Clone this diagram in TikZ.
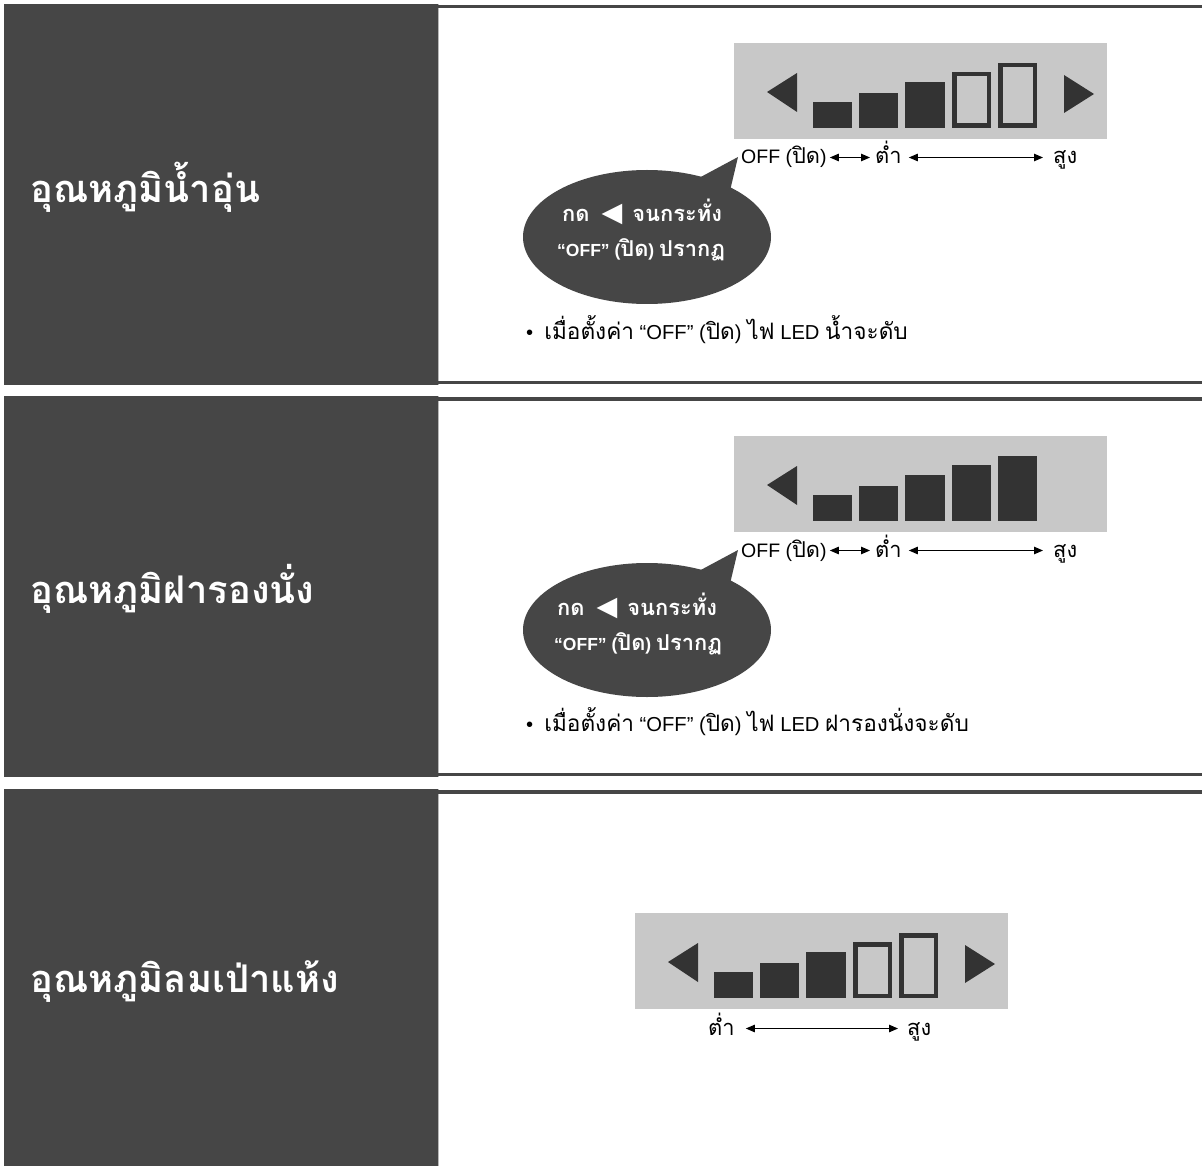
\documentclass[tikz,border=0pt]{standalone}
\usepackage{fontspec}
\setmainfont{Liberation Sans}
\newfontfamily\thai[Script=Thai,Scale=1.25]{Loma}
\newfontfamily\thaib[Script=Thai,Scale=1.12]{Loma}
\newfontfamily\djv{DejaVu Sans}
\newcommand\thx[1]{{\thai #1}}
\newcommand\thy[1]{{\thaib #1}}
\usetikzlibrary{arrows.meta,shapes.geometric,calc}
\definecolor{panelc}{HTML}{464646}
\definecolor{dispc}{HTML}{C8C8C8}
\definecolor{barc}{HTML}{333333}
\definecolor{edgec}{HTML}{B8B8B8}
\begin{document}
\begin{tikzpicture}[x=1pt,y=-1pt,
  titletext/.style={anchor=base west,inner sep=0pt,text=white,font=\thai\bfseries\fontsize{30.5}{36}\selectfont},
  lbl/.style={anchor=base west,inner sep=0pt,font=\fontsize{19.5}{23}\selectfont},
  note/.style={anchor=base west,inner sep=0pt,font=\fontsize{20.2}{24}\selectfont},
  bubtext/.style={anchor=base west,inner sep=0pt,text=white,font=\bfseries\fontsize{17.5}{21}\selectfont},
  dbl/.style={{Triangle[length=9pt,width=7.5pt]}-{Triangle[length=9pt,width=7.5pt]},line width=1pt},
  bubble/.style={ellipse,fill=panelc,minimum width=248pt,minimum height=134pt,inner sep=0pt},
  fullbar/.style={fill=barc},
  hollowbar/.style={draw=barc,line width=4.5pt},
]
\useasboundingbox (0,0) rectangle (1202,1166);
\fill[white] (0,0) rectangle (1202,1166);

% ---------- panel frames ----------
\foreach \T/\B in {4/385,396/777,789/1172}{
  \fill[panelc] (4,\T) rectangle (438,\B);
  \draw[edgec,line width=1pt] (438.5,\T) -- (438.5,\B);
  \fill[panelc] (438,\T+1) rectangle (1202,\T+4.5);
  \fill[panelc] (438,\B-4.5) rectangle (1202,\B-1);
}

% ---------- titles ----------
\node[titletext] (t1) at (30,203) {อุณหภูมิน้ำอุ่น};
\node[titletext] (t2) at (30,603) {อุณหภูมิฝารองนั่ง};
\node[titletext] (t3) at (30,992) {อุณหภูมิลมเป่าแห้ง};

% ---------- display 1 ----------
\fill[dispc] (734,43) rectangle (1107,139);
\fill[barc] (767,92) -- (797,73) -- (797,112) -- cycle;
\fill[barc] (1094,94) -- (1064,75) -- (1064,113) -- cycle;
\fill[fullbar] (813,102) rectangle (852,128);
\fill[fullbar] (859,93) rectangle (898,128);
\fill[fullbar] (905,82) rectangle (945,128);
\draw[hollowbar] (954.25,74.25) rectangle (988.75,125.75);
\draw[hollowbar] (1000.25,65.25) rectangle (1034.75,125.75);

% ---------- display 2 ----------
\begin{scope}[shift={(0,393)}]
\fill[dispc] (734,43) rectangle (1107,139);
\fill[barc] (767,92) -- (797,73) -- (797,112) -- cycle;
\fill[fullbar] (813,102) rectangle (852,128);
\fill[fullbar] (859,93) rectangle (898,128);
\fill[fullbar] (905,82) rectangle (945,128);
\fill[fullbar] (952,72) rectangle (991,128);
\fill[fullbar] (998,63) rectangle (1037,128);
\end{scope}

% ---------- display 3 ----------
\begin{scope}[shift={(-99,870)}]
\fill[dispc] (734,43) rectangle (1107,139);
\fill[barc] (767,92) -- (797,73) -- (797,112) -- cycle;
\fill[barc] (1094,94) -- (1064,75) -- (1064,113) -- cycle;
\fill[fullbar] (813,102) rectangle (852,128);
\fill[fullbar] (859,93) rectangle (898,128);
\fill[fullbar] (905,82) rectangle (945,128);
\draw[hollowbar] (954.25,74.25) rectangle (988.75,125.75);
\draw[hollowbar] (1000.25,65.25) rectangle (1034.75,125.75);
\end{scope}

% ---------- scale labels ----------
\node[lbl] (off1) at (741,164) {OFF (\thy{ปิด})};
\node[lbl] (low1) at (875,164) {\thy{ต่ำ}};
\node[lbl] (high1) at (1053,164) {\thy{สูง}};
\draw[dbl] ([shift={(3,-6.5)}]off1.base east) -- ([shift={(-5,-6.5)}]low1.base west);
\draw[dbl] ([shift={(7,-6.5)}]low1.base east) -- ([shift={(-10,-6.5)}]high1.base west);

\node[lbl] (off2) at (741,557) {OFF (\thy{ปิด})};
\node[lbl] (low2) at (875,557) {\thy{ต่ำ}};
\node[lbl] (high2) at (1053,557) {\thy{สูง}};
\draw[dbl] ([shift={(3,-6.5)}]off2.base east) -- ([shift={(-5,-6.5)}]low2.base west);
\draw[dbl] ([shift={(7,-6.5)}]low2.base east) -- ([shift={(-10,-6.5)}]high2.base west);

\node[lbl] (low3) at (708,1035) {\thy{ต่ำ}};
\node[lbl] (high3) at (907,1035) {\thy{สูง}};
\draw[dbl] ([shift={(11,-6.5)}]low3.base east) -- ([shift={(-9,-6.5)}]high3.base west);

% ---------- bubbles ----------
\node[bubble] (b1) at (647,237) {};
\coordinate (tip1) at (738,157);
\fill[panelc] ($(b1.center)+(50,-58)$) -- (tip1) -- ($(b1.center)+(82,-42)$) -- cycle;
\node[bubtext] (b1a) at (562,222) {\thx{กด}\hspace{12pt}{\djv\fontsize{27}{27}\selectfont ◀}\hspace{10pt}\thx{จนกระทั่ง}};
\node[bubtext] (b1b) at (557,257) {“OFF” (\thx{ปิด}) \thx{ปรากฏ}};

\node[bubble] (b2) at (647,630) {};
\coordinate (tip2) at (738,550);
\fill[panelc] ($(b2.center)+(50,-58)$) -- (tip2) -- ($(b2.center)+(82,-42)$) -- cycle;
\node[bubtext] (b2a) at (557,615) {\thx{กด}\hspace{12pt}{\djv\fontsize{27}{27}\selectfont ◀}\hspace{10pt}\thx{จนกระทั่ง}};
\node[bubtext] (b2b) at (554,650) {“OFF” (\thx{ปิด}) \thx{ปรากฏ}};

% ---------- notes ----------
\node[note] (n1) at (526,339) {\textbullet\hspace{11pt}\thy{เมื่อตั้งค่า} “OFF” (\thy{ปิด}) \thy{ไฟ} LED \thy{น้ำจะดับ}};
\node[note] (n2) at (526,731) {\textbullet\hspace{11pt}\thy{เมื่อตั้งค่า} “OFF” (\thy{ปิด}) \thy{ไฟ} LED \thy{ฝารองนั่งจะดับ}};
\end{tikzpicture}
\end{document}
